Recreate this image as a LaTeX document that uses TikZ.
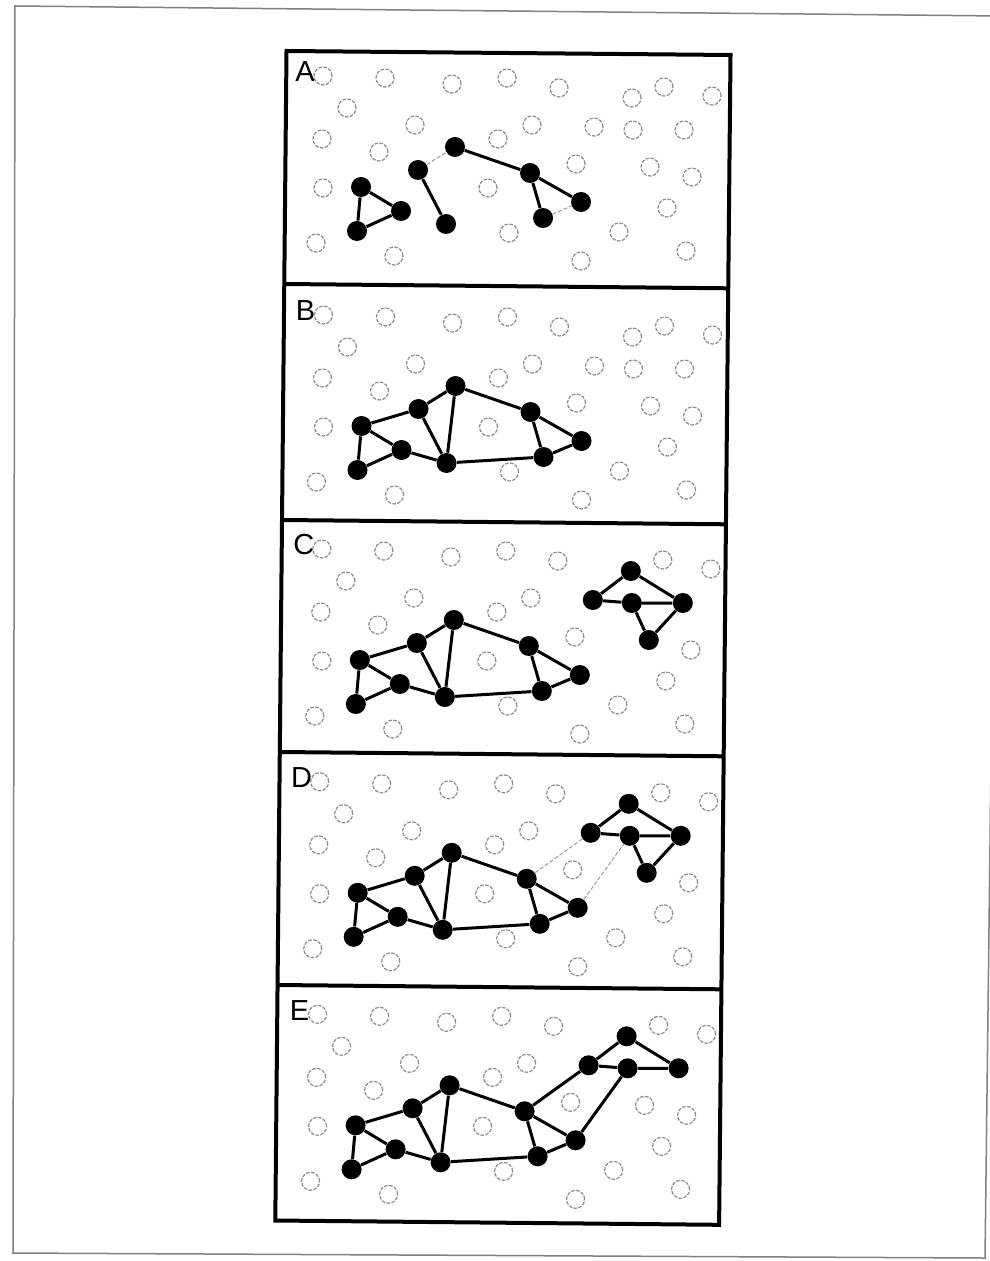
\documentclass[tikz,border=0pt]{standalone}
\usepackage{fontspec}
\setmainfont{Liberation Sans}

% background field, shared by every panel
\newcommand\fieldpts{323/76,385/78,452/84,507/78,559/88,664/87,712/96,347/108,415/125,532/125,322/139,498/139,379/152,576/164,692/177,323/188,488/188,667/208,509/233,619/232,316/243,394/256,581/261,686/251}
% the large group
\newcommand\grouppts{a1/361/187,a2/401/211,a3/357/231,b1/418/170,b2/446/224,c1/455/147,c2/530/173,c3/581/202,c4/543/218}

\begin{document}
\begin{tikzpicture}[x=0.5pt,y=-0.5pt,
	hollow/.style={circle,draw=black!45,line width=0.6pt,dash pattern=on 1.8pt off 0.7pt,minimum size=9pt,inner sep=0pt},
	dot/.style={circle,fill=black,minimum size=10pt,inner sep=0pt},
	link/.style={line width=1.5pt},
	weak/.style={draw=black!40,line width=0.5pt,dash pattern=on 2pt off 1pt},
	tag/.style={font=\fontsize{14.5}{16}\selectfont,inner sep=0pt}]

	\fill[white] (0,0) rectangle (989,1261);
	\useasboundingbox (0,0) rectangle (989,1261);

	% page frame
	\draw[black!50,line width=0.75pt] (15,6) -- (1000,16) -- (985,1258) -- (13,1253) -- cycle;

	% panel outline and dividers
	\draw[line width=2pt] (286.5,51) -- (730.5,55) -- (719.1,1224.8) -- (275.3,1220.5) -- cycle;
	\foreach \xl/\yl/\xr/\yr in {284.2/284/728.2/288.3, 282.0/520/725.9/524.3, 279.8/752/723.7/756.3, 277.5/985/721.4/989.3}
		\draw[line width=2pt] (\xl,\yl) -- (\xr,\yr);

	% panels A to E
	\foreach \p/\dx/\dy/\ds/\es in {A/0/0/hollow/hollow, B/0.5/239/hollow/hollow, C/-1.2/473/dot/dot, D/-3.3/705.8/dot/dot, E/-5.4/938.3/dot/hollow} {
		\begin{scope}[shift={(\dx,\dy)}]
			\node[tag] (\p-tag) at (305,72) {\p};
			\foreach \x/\y [count=\i] in \fieldpts
				\node[hollow] (\p-h\i) at (\x,\y) {};
			\foreach \n/\x/\y in \grouppts
				\node[dot] (\p-\n) at (\x,\y) {};
			\foreach \n/\x/\y in {d1/632/98,d2/594/127,d3/633/130,d4/684/130}
				\node[\ds] (\p-\n) at (\x,\y) {};
			\node[\es] (\p-d5) at (650,167) {};
		\end{scope}
	}

	% A: three loose pieces
	\draw[link] (A-a1) -- (A-a2) -- (A-a3) -- (A-a1)
		(A-b1) -- (A-b2)
		(A-c1) -- (A-c2) -- (A-c3)
		(A-c2) -- (A-c4);
	\draw[weak] (A-b1) -- (A-c1) (A-c4) -- (A-c3);

	% B to E: joined group
	\foreach \p in {B,C,D,E}
		\draw[link] (\p-a1) -- (\p-a2) -- (\p-a3) -- (\p-a1)
			(\p-a1) -- (\p-b1) -- (\p-c1) -- (\p-c2) -- (\p-c3) -- (\p-c4) -- (\p-b2) -- (\p-a2)
			(\p-b1) -- (\p-b2) -- (\p-c1)
			(\p-c2) -- (\p-c4);

	% C and D: second group
	\foreach \p in {C,D}
		\draw[link] (\p-d2) -- (\p-d1) -- (\p-d4) -- (\p-d3) -- (\p-d2)
			(\p-d3) -- (\p-d5) -- (\p-d4);
	\draw[weak] (D-c2) -- (D-d2) (D-c3) -- (D-d3);

	% E: both groups merged
	\draw[link] (E-d2) -- (E-d1) -- (E-d4) -- (E-d3) -- (E-d2)
		(E-c2) -- (E-d2)
		(E-c3) -- (E-d3);
\end{tikzpicture}
\end{document}
